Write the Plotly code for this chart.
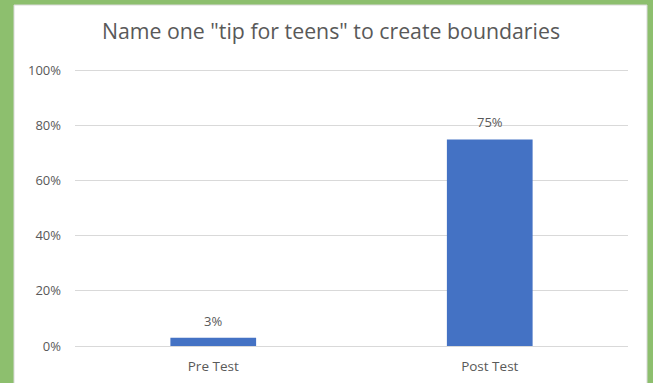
import plotly.graph_objects as go

categories = ["Pre Test", "Post Test"]
values = [0.03, 0.75]
value_labels = ["3%", "75%"]
title_text = 'Name one "tip for teens" to create boundaries'

W, H = 653, 383
ML, MR, MT, MB = 75, 25, 65, 37
Y_MAX = 1.02
pw, ph = W - ML - MR, H - MT - MB


def px_to_paper_x(px):
    return (px - ML) / pw


def px_to_paper_y(py):
    return (H - MB - py) / ph


fig = go.Figure(
    go.Bar(
        x=categories,
        y=values,
        marker=dict(color="#4472C4", line=dict(width=0)),
        width=0.31,
        hoverinfo="x+y",
    )
)

# value labels sitting above each bar
for cat, val, lab in zip(categories, values, value_labels):
    fig.add_annotation(
        x=cat, y=val, text=lab,
        showarrow=False,
        yanchor="bottom",
        yshift=6,
        font=dict(size=13, color="#595959"),
    )

# white card on a green frame
fig.add_shape(
    type="rect",
    xref="paper", yref="paper",
    x0=px_to_paper_x(14), x1=px_to_paper_x(647),
    y0=px_to_paper_y(384), y1=px_to_paper_y(5),
    fillcolor="white",
    line=dict(color="#d9d9d9", width=1),
    layer="below",
)

fig.update_layout(
    width=W,
    height=H,
    margin=dict(l=ML, r=MR, t=MT, b=MB),
    paper_bgcolor="#8dbf6e",
    plot_bgcolor="rgba(0,0,0,0)",
    font=dict(family="Open Sans, sans-serif", color="#595959"),
    title=dict(
        text=title_text,
        x=331 / W,
        xref="container",
        xanchor="center",
        y=1 - 32 / H,
        yanchor="middle",
        font=dict(size=21.3, color="#595959"),
    ),
    showlegend=False,
    bargap=0.69,
)

fig.update_xaxes(
    showgrid=False,
    showline=False,
    ticks="",
    automargin=False,
    ticklabelstandoff=10,
    tickfont=dict(size=13.5, color="#595959"),
)
fig.update_yaxes(
    range=[0, Y_MAX],
    tickvals=[0, 0.2, 0.4, 0.6, 0.8, 1.0],
    tickformat=".0%",
    showgrid=True,
    gridcolor="#d9d9d9",
    gridwidth=1,
    zeroline=True,
    zerolinecolor="#d9d9d9",
    zerolinewidth=1,
    showline=False,
    ticks="",
    automargin=False,
    ticklabelstandoff=13,
    tickfont=dict(size=13, color="#595959"),
)

fig.write_html("out.html")
